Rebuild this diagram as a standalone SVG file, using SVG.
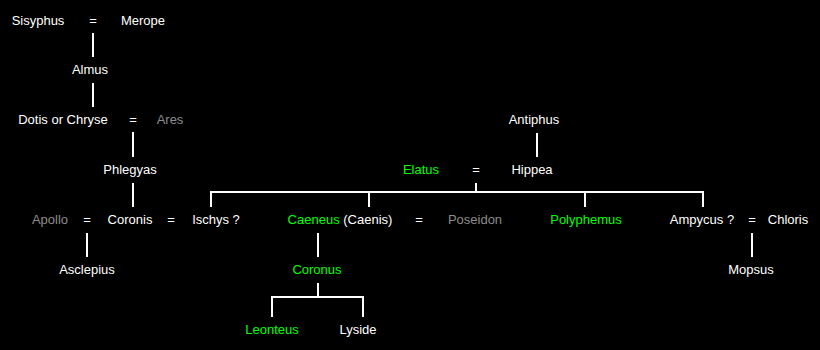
<svg xmlns="http://www.w3.org/2000/svg" width="820" height="350" viewBox="0 0 820 350">
<style>
text{font-family:"Liberation Sans",Arial,sans-serif;font-size:13px;fill:#fff;text-anchor:middle}
.g{fill:#00ff00}
.d{fill:#8c8c8c}
.l{fill:none;stroke:#fff;stroke-width:2}
</style>
<rect width="820" height="350" fill="#000"/>
<g id="connectors" class="l">
<path d="M93 33V57"/>
<path d="M93 83V107"/>
<path d="M133 132V157"/>
<path d="M133 183V207"/>
<path d="M87 233V257"/>
<path d="M537 133V157"/>
<path d="M476 183V192"/>
<path d="M211 207V192H703V207"/>
<path d="M369 192V207"/>
<path d="M585 192V207"/>
<path d="M318 233V257"/>
<path d="M318 283V297"/>
<path d="M272 317V297H363V317"/>
<path d="M752 233V257"/>
</g>
<g id="sisyphus"><text x="38" y="25">Sisyphus</text></g>
<g id="eq1"><text x="93" y="25">=</text></g>
<g id="merope"><text x="143" y="25">Merope</text></g>
<g id="almus"><text x="90" y="74">Almus</text></g>
<g id="dotis"><text x="63" y="124">Dotis or Chryse</text></g>
<g id="eq2"><text x="133" y="124">=</text></g>
<g id="ares"><text class="d" x="170" y="124">Ares</text></g>
<g id="phlegyas"><text x="130" y="174">Phlegyas</text></g>
<g id="antiphus"><text x="534" y="124">Antiphus</text></g>
<g id="elatus"><text class="g" x="421" y="174">Elatus</text></g>
<g id="eq3"><text x="476" y="174">=</text></g>
<g id="hippea"><text x="532" y="174">Hippea</text></g>
<g id="apollo"><text class="d" x="50" y="224">Apollo</text></g>
<g id="eq4"><text x="87" y="224">=</text></g>
<g id="coronis"><text x="130" y="224">Coronis</text></g>
<g id="eq5"><text x="171" y="224">=</text></g>
<g id="ischys"><text x="216" y="224">Ischys ?</text></g>
<g id="caeneus"><text x="340" y="224"><tspan class="g">Caeneus</tspan> (Caenis)</text></g>
<g id="eq6"><text x="419" y="224">=</text></g>
<g id="poseidon"><text class="d" x="475" y="224">Poseidon</text></g>
<g id="polyphemus"><text class="g" x="586" y="224">Polyphemus</text></g>
<g id="ampycus"><text x="702" y="224">Ampycus ?</text></g>
<g id="eq7"><text x="752" y="224">=</text></g>
<g id="chloris"><text x="788" y="224">Chloris</text></g>
<g id="asclepius"><text x="87" y="274">Asclepius</text></g>
<g id="coronus"><text class="g" x="317" y="274">Coronus</text></g>
<g id="mopsus"><text x="751" y="274">Mopsus</text></g>
<g id="leonteus"><text class="g" x="272" y="334">Leonteus</text></g>
<g id="lyside"><text x="358" y="334">Lyside</text></g>
</svg>
